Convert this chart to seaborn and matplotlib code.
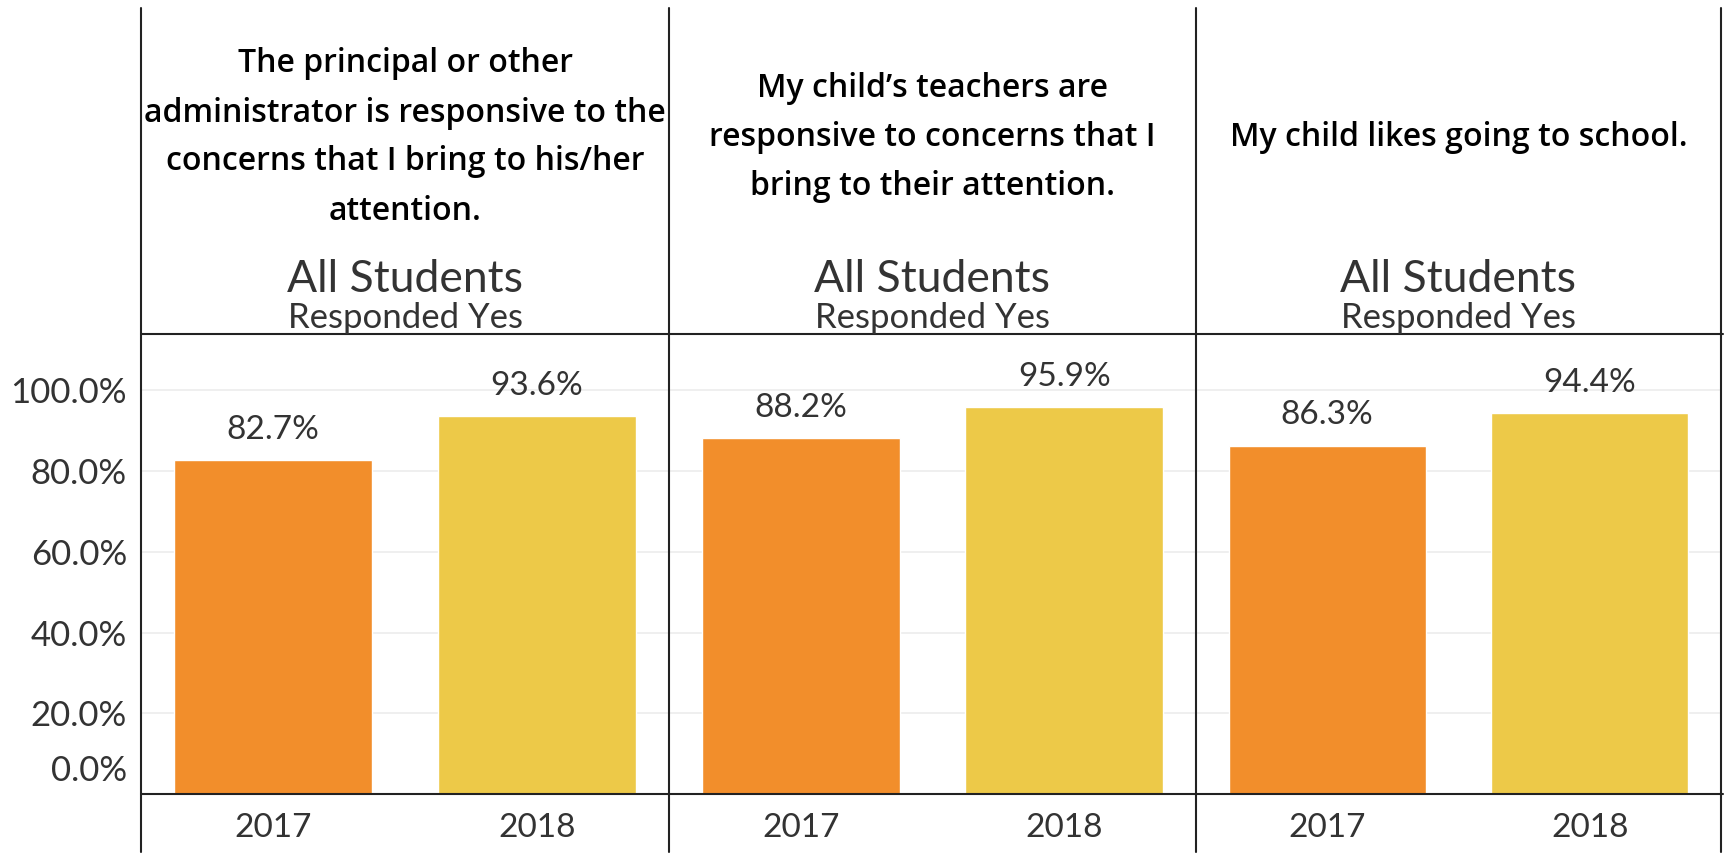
import matplotlib
matplotlib.use('Agg')
import matplotlib.pyplot as plt
import matplotlib.transforms as mtransforms
from matplotlib.lines import Line2D
import pandas as pd
import seaborn as sns

questions = [
    "The principal or other\nadministrator is responsive to the\nconcerns that I bring to his/her\nattention.",
    "My child\u2019s teachers are\nresponsive to concerns that I\nbring to their attention.",
    "My child likes going to school.",
]
years = ["2017", "2018"]
pct_2017 = [82.7, 88.2, 86.3]
pct_2018 = [93.6, 95.9, 94.4]
y_ticks = [0, 20, 40, 60, 80, 100]
y_tick_labels = ["0.0%", "20.0%", "40.0%", "60.0%", "80.0%", "100.0%"]
year_colors = {"2017": "#F28E2B", "2018": "#EDC948"}

sns.set_style("white")
plt.rcParams["font.family"] = ["Lato", "DejaVu Sans"]

W, H = 1729, 858
fig = plt.figure(figsize=(W / 100, H / 100), dpi=100)

# pixel layout of the Tableau-like grid
edges = [141, 669, 1196, 1721]
top, header_line, base, bottom = 8, 334, 794, 852


def fx(px):
    return px / W


def fy(py):
    return 1 - py / H


text_gray = "#333333"

for i, q in enumerate(questions):
    df = pd.DataFrame({"year": years, "pct": [pct_2017[i], pct_2018[i]]})
    ax = fig.add_axes([fx(edges[i]), fy(base), fx(edges[i + 1] - edges[i]),
                       (base - header_line) / H])
    sns.barplot(data=df, x="year", y="pct", hue="year", palette=year_colors,
                width=0.75, saturation=1, legend=False, ax=ax)
    ax.set_xlim(-0.5, 1.5)
    ax.set_ylim(0, 114)
    ax.set_yticks(y_ticks)
    ax.yaxis.grid(True, color="#ececec", lw=1.2)
    ax.set_axisbelow(True)
    for s in ax.spines.values():
        s.set_visible(False)
    ax.set_xlabel("")
    ax.set_ylabel("")
    ax.tick_params(axis="x", length=0, pad=14, labelsize=24, labelcolor=text_gray)
    if i == 0:
        ax.set_yticklabels(y_tick_labels)
        ax.tick_params(axis="y", length=6.5, color="#ececec", pad=3.6,
                       labelsize=25, labelcolor=text_gray)
        # Tableau nudges the 0.0% label up so it isn't clipped
        lab = ax.yaxis.get_major_ticks()[0].label1
        lab.set_transform(lab.get_transform() +
                          mtransforms.ScaledTranslation(0, 0.26, fig.dpi_scale_trans))
    else:
        ax.tick_params(axis="y", length=0, labelleft=False)

    for c in ax.containers:
        ax.bar_label(c, fmt="%.1f%%", padding=11, fontsize=24, color=text_gray)

    cx = fx((edges[i] + edges[i + 1]) / 2)
    fig.text(cx, fy(137.5), q, ha="center", va="center", fontsize=23,
             fontweight="semibold", linespacing=1.64, color="black",
             family=["Open Sans", "DejaVu Sans"])
    fig.text(cx, fy(280), "All Students", ha="center", va="center",
             fontsize=32, color=text_gray)
    fig.text(cx, fy(318), "Responded Yes", ha="center", va="center",
             fontsize=25, color=text_gray)

# frame lines
for x in edges:
    fig.add_artist(Line2D([fx(x), fx(x)], [fy(top), fy(bottom)], color="#222222", lw=1.5))
for y in [header_line, base]:
    fig.add_artist(Line2D([fx(edges[0]), fx(1723)], [fy(y), fy(y)], color="#222222", lw=1.5))

fig.savefig("out.png", dpi=100)
